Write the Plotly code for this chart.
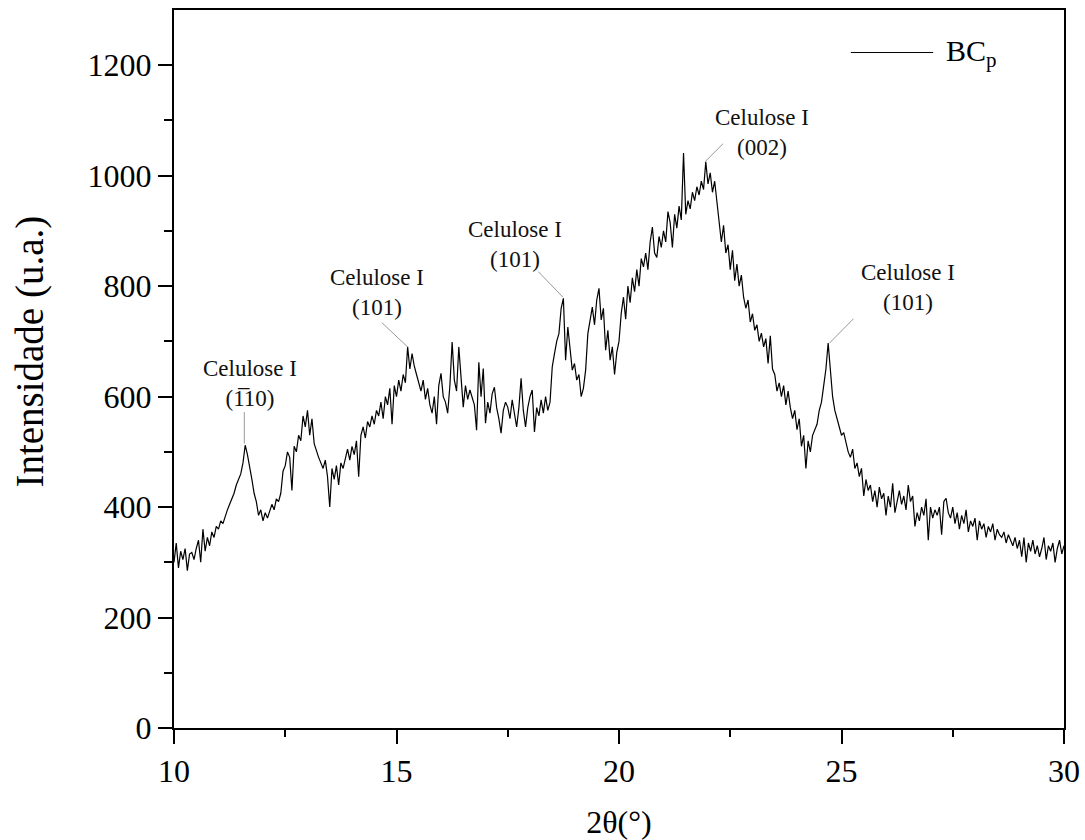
import numpy as np
import plotly.graph_objects as go

# 2theta sampling grid (degrees)
theta_start = 10.0
theta_step = 0.05
intensity = [
    # 10.00 - 10.95
    300, 335, 290, 320, 305, 325, 285, 315, 318, 305, 325, 340, 300, 360, 320, 345, 330, 355, 345, 365,
    # 11.00 - 11.95
    360, 375, 370, 385, 395, 405, 415, 425, 440, 450, 460, 480, 512, 495, 475, 450, 425, 410, 385, 395,
    # 12.00 - 12.95
    375, 390, 380, 395, 405, 395, 415, 410, 425, 465, 475, 500, 490, 430, 510, 500, 530, 520, 565, 545,
    # 13.00 - 13.95
    575, 530, 560, 515, 500, 490, 480, 470, 485, 455, 400, 470, 450, 475, 440, 480, 470, 490, 505, 485,
    # 14.00 - 14.95
    510, 495, 520, 455, 530, 545, 525, 555, 545, 565, 550, 575, 565, 590, 560, 600, 585, 615, 550, 620,
    # 15.00 - 15.95
    600, 630, 610, 640, 625, 690, 650, 678, 655, 640, 625, 610, 630, 595, 615, 585, 570, 600, 550, 620,
    # 16.00 - 16.95
    642, 600, 590, 570, 620, 699, 630, 610, 690, 640, 581, 620, 595, 612, 600, 585, 539, 662, 600, 651,
    # 17.00 - 17.95
    552, 590, 570, 605, 617, 580, 560, 534, 575, 590, 581, 560, 594, 570, 545, 580, 633, 575, 545, 580,
    # 18.00 - 18.95
    600, 612, 536, 580, 565, 594, 570, 600, 575, 590, 654, 678, 700, 714, 760, 778, 666, 726, 680, 648,
    # 19.00 - 19.95
    660, 630, 640, 600, 615, 648, 714, 740, 762, 730, 775, 796, 739, 760, 684, 720, 666, 690, 640, 680,
    # 20.00 - 20.95
    700, 751, 780, 740, 800, 770, 815, 790, 830, 800, 850, 835, 860, 830, 880, 907, 860, 852, 890, 870,
    # 21.00 - 21.95
    900, 880, 935, 915, 870, 930, 905, 945, 920, 1041, 930, 955, 940, 970, 955, 980, 965, 990, 975, 1025,
    # 22.00 - 22.95
    985, 1005, 970, 990, 950, 920, 880, 910, 860, 875, 830, 865, 810, 840, 800, 820, 780, 760, 775, 735,
    # 23.00 - 23.95
    750, 720, 730, 700, 715, 690, 705, 660, 710, 650, 640, 610, 625, 600, 620, 585, 610, 580, 560, 575,
    # 24.00 - 24.95
    540, 560, 510, 530, 470, 520, 500, 530, 540, 550, 575, 590, 620, 650, 697, 640, 600, 575, 560, 545,
    # 25.00 - 25.95
    530, 535, 515, 500, 490, 505, 470, 480, 455, 470, 420, 450, 430, 440, 410, 430, 400, 436, 415, 425,
    # 26.00 - 26.95
    385, 420, 400, 443, 390, 410, 430, 405, 420, 395, 440, 410, 420, 365, 390, 375, 400, 385, 415, 340,
    # 27.00 - 27.95
    400, 380, 395, 385, 400, 350, 410, 416, 390, 380, 400, 370, 390, 360, 385, 370, 395, 355, 375, 365,
    # 28.00 - 28.95
    380, 340, 375, 360, 370, 345, 365, 355, 370, 340, 360, 350, 345, 355, 335, 350, 340, 330, 345, 325,
    # 29.00 - 30.00
    340, 310, 345, 300, 335, 320, 340, 315, 330, 310, 325, 345, 305, 330, 320, 335, 300, 325, 340, 315, 330,
]
two_theta = np.round(theta_start + theta_step * np.arange(len(intensity)), 2)

series_name = "BC<sub>p</sub>"

# peak annotations: label text, label position, leader line (from, to)
peak_labels = ["Celulose I<br>(1\u030510)", "Celulose I<br>(101)", "Celulose I<br>(101)",
               "Celulose I<br>(002)", "Celulose I<br>(101)"]
label_x = [11.71, 14.57, 17.66, 23.21, 26.49]
label_y = [624, 789, 875, 1078, 797]
lead_x0 = [11.58, 14.67, 18.19, 22.34, 25.27]
lead_y0 = [572, 734, 826, 1058, 741]
lead_x1 = [11.58, 15.25, 18.74, 21.93, 24.73]
lead_y1 = [515, 690, 780, 1025, 697]

x_ticks = [10, 15, 20, 25, 30]
y_ticks = [0, 200, 400, 600, 800, 1000, 1200]

FONT = "Liberation Serif, Times New Roman, Times, serif"

fig = go.Figure()
fig.add_trace(go.Scatter(x=two_theta, y=intensity, mode="lines",
                         line=dict(color="black", width=1.2), name=series_name,
                         showlegend=False))

for t, lx, ly in zip(peak_labels, label_x, label_y):
    fig.add_annotation(x=lx, y=ly, text=t, showarrow=False,
                       font=dict(family=FONT, size=23, color="#111"),
                       xanchor="center", yanchor="middle", align="center")
for a, b, c, d in zip(lead_x0, lead_y0, lead_x1, lead_y1):
    fig.add_shape(type="line", x0=a, y0=b, x1=c, y1=d,
                  line=dict(color="#999999", width=1))

# custom legend entry
fig.add_shape(type="line", x0=25.21, x1=27.06, y0=1223, y1=1223,
              line=dict(color="black", width=1))
fig.add_annotation(x=27.3, y=1223, text=series_name, showarrow=False,
                   xanchor="left", yanchor="middle",
                   font=dict(family=FONT, size=30, color="black"))

# y-axis title
fig.add_annotation(xref="paper", yref="paper", x=-0.162, y=0.524,
                   text="Intensidade (u.a.)", textangle=-90, showarrow=False,
                   xanchor="center", yanchor="middle",
                   font=dict(family=FONT, size=39, color="black"))

fig.update_layout(
    width=1085, height=840,
    margin=dict(l=174, r=21, t=10, b=112),
    paper_bgcolor="white", plot_bgcolor="white",
    font=dict(family=FONT, color="black"),
)
fig.update_xaxes(range=[10, 30], tickvals=x_ticks, ticks="outside", ticklen=14,
                 tickwidth=2, tickcolor="black", showline=True, linewidth=2,
                 linecolor="black", mirror=True, showgrid=False, zeroline=False,
                 automargin=False,
                 tickfont=dict(family=FONT, size=32),
                 minor=dict(tickvals=[12.5, 17.5, 22.5, 27.5], ticks="outside",
                            ticklen=7, tickwidth=2, tickcolor="black"),
                 title=dict(text="2θ(°)", font=dict(family=FONT, size=32), standoff=22))
fig.update_yaxes(range=[0, 1300], tickvals=y_ticks, ticks="outside", ticklen=14,
                 tickwidth=2, tickcolor="black", showline=True, linewidth=2,
                 linecolor="black", mirror=True, showgrid=False, zeroline=False,
                 automargin=False,
                 tickfont=dict(family=FONT, size=32),
                 minor=dict(tickvals=[100, 300, 500, 700, 900, 1100], ticks="outside",
                            ticklen=8, tickwidth=2, tickcolor="black"))

fig.write_html("out.html")
